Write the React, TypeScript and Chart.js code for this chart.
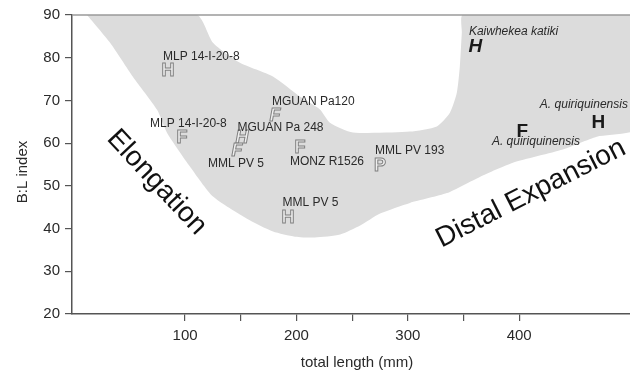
import React, { useEffect, useRef } from 'react';
import { Chart, registerables } from 'chart.js';

Chart.register(...registerables);

const FONT = "'Liberation Sans', Arial, Helvetica, sans-serif";

// ---- Data ----
const xTickValues = [100, 150, 200, 250, 300, 350, 400];
const yTickValues = [20, 30, 40, 50, 60, 70, 80, 90];

// Shaded region outline (total length mm, B:L index)
const regionLength = [
  12.0, 110.7, 125.1, 149.3, 178.9, 203.2, 221.1, 230.1, 250.7, 301.9, 326.1, 337.8, 344.0, 346.7, 348.5, 349.4,
  505, 505, 469.7, 439.2, 394.3, 364.7, 335.1, 301.9, 275.1, 257.2, 239.3, 216.6, 198.7, 179.0, 155.6, 125.1,
  104.5, 83.9, 74.9, 53.3, 32.7, 12.0,
];
const regionIndex = [
  90, 90, 83.5, 78.8, 75.6, 70.9, 67.9, 64.8, 62.5, 62.7, 63.9, 67.1, 71.8, 77.9, 85.9, 90,
  90, 63.4, 61.5, 58.5, 55.4, 52.1, 48.3, 46.0, 43.5, 40.7, 38.6, 37.9, 38.1, 39.3, 42.3, 47.5,
  54.5, 62.4, 67.8, 75.5, 83.5, 90,
];

// Specimens
const specimenNames = [
  'MLP 14-I-20-8', 'MLP 14-I-20-8', 'MGUAN Pa120', 'MGUAN Pa 248', 'MML PV 5', 'MONZ R1526',
  'MML PV 5', 'MML PV 193', 'Kaiwhekea katiki', 'A. quiriquinensis', 'A. quiriquinensis',
];
const specimenLength = [84.7, 97.3, 180.7, 151.1, 146.6, 203.2, 192.4, 275.0, 360.7, 402.9, 471.1];
const specimenBL = [77.2, 61.5, 66.7, 61.5, 58.5, 59.2, 42.8, 55.0, 83.0, 63.1, 65.1];
const specimenElement = ['H', 'F', 'F', 'H', 'F', 'F', 'H', 'P', 'H', 'F', 'H'];

// Trend annotations
const trendLabels = ['Elongation', 'Distal Expansion'];
const trendLength = [74.5, 410.5];
const trendBL = [50.8, 48.2];

// ---- Layout / styling (not data) ----
const markerHollow = [true, true, true, true, true, true, true, true, false, false, false];
const markerItalic = [false, false, true, true, true, false, false, false, true, false, false];
const labelItalic = [false, false, false, false, false, false, false, false, true, true, true];
const labelDX = [-5, -32, -3, -4.5, -29, -10, -5.5, -5, -6.5, -30.5, -58.5];
const labelDY = [-13, -13, -13, -9.5, 14.5, 15.5, -13.5, -14, -13, 12, -16.5];
const trendAngle = [47, -27];

const overlayPlugin = {
  id: 'overlay',
  afterDatasetsDraw(chart: any) {
    const ctx = chart.ctx as CanvasRenderingContext2D;
    const { top, left, right, bottom } = chart.chartArea;
    ctx.save();
    // top frame line
    ctx.strokeStyle = '#9a9a9a';
    ctx.lineWidth = 1.5;
    ctx.beginPath();
    ctx.moveTo(left, top);
    ctx.lineTo(right, top);
    ctx.stroke();

    const meta = chart.getDatasetMeta(1);
    meta.data.forEach((pt: any, i: number) => {
      const x = pt.x;
      const y = pt.y;
      const hollow = markerHollow[i];
      const size = hollow ? 18 : 19;
      ctx.font = `${markerItalic[i] ? 'italic ' : ''}bold ${size}px ${FONT}`;
      ctx.textAlign = 'center';
      ctx.textBaseline = 'alphabetic';
      const by = y + (size * 0.716) / 2;
      if (hollow) {
        ctx.fillStyle = 'rgba(255,255,255,0.55)';
        ctx.fillText(specimenElement[i], x, by);
        ctx.strokeStyle = '#808080';
        ctx.lineWidth = 1;
        ctx.strokeText(specimenElement[i], x, by);
      } else {
        ctx.fillStyle = '#1a1a1a';
        ctx.fillText(specimenElement[i], x, by);
      }
      ctx.font = `${labelItalic[i] ? 'italic ' : ''}12px ${FONT}`;
      ctx.textAlign = 'left';
      ctx.textBaseline = 'middle';
      ctx.fillStyle = '#2a2a2a';
      ctx.fillText(specimenNames[i], x + labelDX[i], y + labelDY[i]);
    });

    const xs = chart.scales.x;
    const ys = chart.scales.y;
    trendLabels.forEach((t, i) => {
      const px = xs.getPixelForValue(trendLength[i]);
      const py = ys.getPixelForValue(trendBL[i]);
      ctx.save();
      ctx.translate(px, py);
      ctx.rotate((trendAngle[i] * Math.PI) / 180);
      ctx.font = `28px ${FONT}`;
      ctx.textAlign = 'center';
      ctx.textBaseline = 'middle';
      ctx.fillStyle = '#111';
      ctx.fillText(t, 0, 0);
      ctx.restore();
    });

    // axis titles
    ctx.fillStyle = '#2a2a2a';
    ctx.font = `15px ${FONT}`;
    ctx.textAlign = 'center';
    ctx.textBaseline = 'middle';
    ctx.fillText('total length (mm)', (left + right) / 2 + 6, bottom + 49);
    ctx.save();
    ctx.translate(23, 172);
    ctx.rotate(-Math.PI / 2);
    ctx.fillText('B:L index', 0, 0);
    ctx.restore();
    ctx.restore();
  },
};

export default function App() {
  const ref = useRef<HTMLCanvasElement>(null);
  useEffect(() => {
    const regionData = regionLength.map((x, i) => ({ x, y: regionIndex[i] }));
    const specimenData = specimenLength.map((x, i) => ({ x, y: specimenBL[i] }));
    const chart = new Chart(ref.current as HTMLCanvasElement, {
      type: 'line',
      data: {
        datasets: [
          {
            data: regionData,
            fill: 'shape',
            backgroundColor: '#dcdcdc',
            borderColor: 'rgba(0,0,0,0)',
            borderWidth: 0,
            pointRadius: 0,
            tension: 0.2,
          },
          {
            data: specimenData,
            showLine: false,
            pointRadius: 0,
            borderWidth: 0,
          },
        ],
      } as any,
      options: {
        responsive: false,
        animation: false,
        maintainAspectRatio: false,
        layout: { padding: { top: 15, left: 0, right: 0, bottom: 0 } },
        plugins: { legend: { display: false }, tooltip: { enabled: false } },
        scales: {
          x: {
            type: 'linear',
            min: -1.5,
            max: 499.5,
            afterBuildTicks: (s: any) => {
              s.ticks = xTickValues.map((v) => ({ value: v }));
            },
            afterFit: (s: any) => {
              s.height = 57;
            },
            grid: { drawOnChartArea: false, drawTicks: true, tickLength: 7, color: '#555', lineWidth: 1.2 },
            border: { color: '#555', width: 1.5 },
            ticks: {
              autoSkip: false,
              maxRotation: 0,
              color: '#2a2a2a',
              padding: 6,
              font: { size: 15, family: FONT },
              callback: (v: any) => (Number(v) % 100 === 0 ? String(v) : ''),
            },
          },
          y: {
            type: 'linear',
            min: 20,
            max: 90,
            afterBuildTicks: (s: any) => {
              s.ticks = yTickValues.map((v) => ({ value: v }));
            },
            afterFit: (s: any) => {
              s.width = 72;
            },
            grid: { drawOnChartArea: false, drawTicks: true, tickLength: 7, color: '#555', lineWidth: 1.2 },
            border: { color: '#555', width: 1.5 },
            ticks: {
              color: '#2a2a2a',
              padding: 5,
              font: { size: 15, family: FONT },
              callback: (v: any) => String(v),
            },
          },
        },
      } as any,
      plugins: [overlayPlugin],
    });
    return () => chart.destroy();
  }, []);
  return (
    <div style={{ position: 'absolute', left: 0, top: 0, width: 630, height: 371, background: '#fff' }}>
      <canvas ref={ref} width={630} height={371} style={{ display: 'block' }} />
    </div>
  );
}
